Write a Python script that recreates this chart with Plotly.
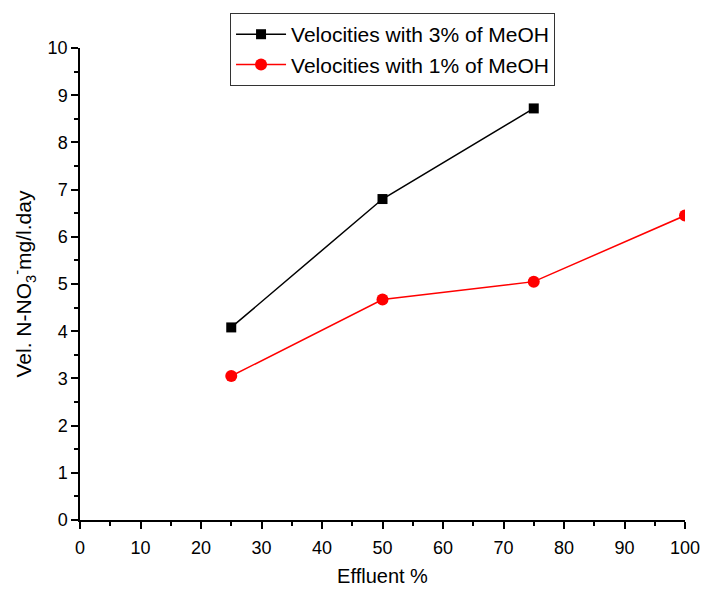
import plotly.graph_objects as go

effluent_3 = [25, 50, 75]
vel_3 = [4.08, 6.80, 8.72]
effluent_1 = [25, 50, 75, 100]
vel_1 = [3.05, 4.67, 5.05, 6.45]
x_ticks = [0, 10, 20, 30, 40, 50, 60, 70, 80, 90, 100]
y_ticks = [0, 1, 2, 3, 4, 5, 6, 7, 8, 9, 10]

fig = go.Figure()
fig.add_trace(go.Scatter(x=effluent_3, y=vel_3, mode="lines+markers",
                         name="Velocities with 3% of MeOH",
                         line=dict(color="black", width=1.5),
                         marker=dict(symbol="square", size=10, color="black")))
fig.add_trace(go.Scatter(x=effluent_1, y=vel_1, mode="lines+markers",
                         name="Velocities with 1% of MeOH",
                         line=dict(color="red", width=1.5),
                         marker=dict(symbol="circle", size=12, color="red")))

font_family = "Liberation Sans, Arial, sans-serif"
fig.update_layout(
    width=702, height=589,
    margin=dict(l=80, r=17, t=48, b=69),
    paper_bgcolor="white", plot_bgcolor="white",
    font=dict(family=font_family, color="black"),
    legend=dict(x=0.248, y=1.074, xanchor="left", yanchor="top",
                bordercolor="#333", borderwidth=1, bgcolor="white",
                font=dict(size=21, family=font_family), tracegroupgap=0,
                itemwidth=50),
    xaxis=dict(range=[0, 100], tickvals=x_ticks, showgrid=False, zeroline=False,
               showline=True, linecolor="black", linewidth=1.5, automargin=False,
               ticks="outside", ticklen=7, tickwidth=1.5, tickcolor="black",
               ticklabelstandoff=4,
               minor=dict(dtick=5, ticks="outside", ticklen=4, tickwidth=1.5, tickcolor="black"),
               tickfont=dict(size=18),
               title=dict(text="Effluent %", font=dict(size=20), standoff=12)),
    yaxis=dict(range=[0, 10], tickvals=y_ticks, showgrid=False, zeroline=False,
               showline=True, linecolor="black", linewidth=1.5, automargin=False,
               ticks="outside", ticklen=7, tickwidth=1.5, tickcolor="black",
               minor=dict(dtick=0.5, ticks="outside", ticklen=4, tickwidth=1.5, tickcolor="black"),
               tickfont=dict(size=18),
               title=dict(text="Vel. N-NO<sub>3</sub><sup>-</sup>mg/l.day", font=dict(size=21), standoff=10)),
)

fig.write_html("out.html")
